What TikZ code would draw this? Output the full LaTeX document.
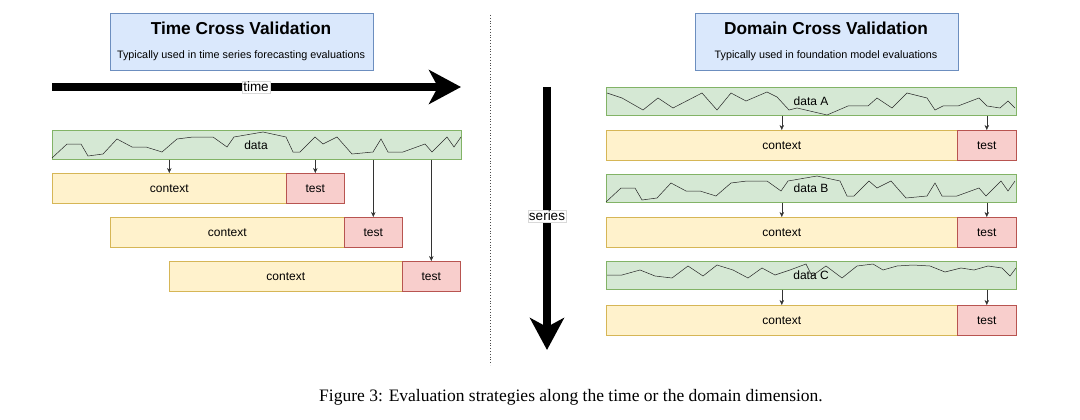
\documentclass[tikz,border=0pt]{standalone}
\usepackage{fontspec}
\setmainfont{Liberation Serif}
\newfontfamily\hv{Liberation Sans}
\usetikzlibrary{arrows.meta}
\begin{document}
\begin{tikzpicture}[x=1pt,y=-1pt,
  box/.style={draw=#1, line width=0.6pt, inner sep=0pt, anchor=north west},
  lbl/.style={font=\hv\fontsize{12}{13}\selectfont},
  wig/.style={line width=0.5pt, black!85},
  con/.style={-{Stealth[length=5pt,width=4.5pt]}, line width=0.5pt, black!80},
  big/.style={line width=8pt, -{Stealth[length=32pt,width=34pt,inset=9pt]}}]
\useasboundingbox (0,0) rectangle (1080,420);
\definecolor{dfill}{HTML}{D5E8D4}\definecolor{ddraw}{HTML}{82B366}
\definecolor{cfill}{HTML}{FFF2CC}\definecolor{cdraw}{HTML}{D6B656}
\definecolor{tfill}{HTML}{F8CECC}\definecolor{tdraw}{HTML}{B85450}
\definecolor{bfill}{HTML}{DAE8FC}\definecolor{bdraw}{HTML}{6C8EBF}
\tikzset{databox/.style={box=ddraw, fill=dfill},ctx/.style={box=cdraw, fill=cfill},tst/.style={box=tdraw, fill=tfill},
 tbox/.style={draw=bdraw, fill=bfill, line width=0.6pt, anchor=north west, minimum width=263pt, minimum height=57pt}}
% titles
\node[tbox] (t1) at (110,13) {};
\node[font=\hv\bfseries\fontsize{17.3}{19}\selectfont] (t1a) at (241,28) {Time Cross Validation};
\node[font=\hv\fontsize{10.8}{12}\selectfont] (t1b) at (241,56) {Typically used in time series forecasting evaluations};
\node[tbox] (t2) at (695,13) {};
\node[font=\hv\bfseries\fontsize{17.3}{19}\selectfont] (t2a) at (826,28) {Domain Cross Validation};
\node[font=\hv\fontsize{10.8}{12}\selectfont] (t2b) at (826,56) {Typically used in foundation model evaluations};
% time arrow
\coordinate (ta) at (52,87); \coordinate (tb) at (461,87);
\draw[big] (ta) -- (tb);
\node[fill=white, draw=black!15, line width=0.4pt, inner sep=1pt, font=\hv\fontsize{13.5}{14}\selectfont] (tl) at (256,87) {time};
% series arrow
\coordinate (sa) at (547,87); \coordinate (sb) at (547,350);
\draw[big] (sa) -- (sb);
\node[fill=white, draw=black!15, line width=0.4pt, inner sep=1pt, font=\hv\fontsize{13.5}{14}\selectfont] (sl) at (547,216) {series};
% dotted divider
\coordinate (d1) at (490,15); \coordinate (d2) at (490,365);
\draw[dotted, line width=0.8pt, black!70] (d1) -- (d2);
% left data
\node[databox, minimum width=409pt, minimum height=29pt] (data) at (52,130) {};
\draw[wig] (52,158)--(67,144)--(81,144)--(88,156)--(103,154)--(117,139)--(132,147)--(146,147)--(162,152)--(177,139)--(193,137)--(213,137)--(227,147)--(234,137)--(263,132)--(286,137)--(293,152)--(300,152)--(315,137)--(323,144)--(337,137)--(352,154)--(373,152)--(381,139)--(388,152)--(403,152)--(425,144)--(432,152)--(447,137)--(454,147)--(461,137);
\node[lbl] (datal) at (256,145) {data};
% left rows
\node[ctx, minimum width=234pt, minimum height=30pt] (c1) at (52,173) {}; \node[lbl] at (c1.center) {context};
\node[tst, minimum width=58pt, minimum height=30pt] (s1) at (286,173) {}; \node[lbl] at (s1.center) {test};
\node[ctx, minimum width=234pt, minimum height=30pt] (c2) at (110,217) {}; \node[lbl] at (c2.center) {context};
\node[tst, minimum width=58pt, minimum height=30pt] (s2) at (344,217) {}; \node[lbl] at (s2.center) {test};
\node[ctx, minimum width=233pt, minimum height=30pt] (c3) at (169,261) {}; \node[lbl] at (c3.center) {context};
\node[tst, minimum width=58pt, minimum height=30pt] (s3) at (402,261) {}; \node[lbl] at (s3.center) {test};
\draw[con] (data.south -| c1.center) -- (c1.north);
\draw[con] (data.south -| s1.center) -- (s1.north);
\draw[con] (data.south -| s2.center) -- (s2.north);
\draw[con] (data.south -| s3.center) -- (s3.north);
% right rows
\foreach \i/\yy in {A/87,B/174,C/261}{
  \node[databox, minimum width=410pt, minimum height=28pt] (d\i) at (606,\yy) {};
}
\draw[wig] (607,93)--(622,98)--(643,110)--(658,98)--(673,108)--(702,93)--(717,110)--(731,93)--(746,101)--(767,92)--(777,97)--(789,110)--(797,108)--(827,115)--(848,106)--(868,106)--(877,98)--(892,108)--(907,93)--(927,98)--(935,110)--(943,106)--(958,106)--(979,98)--(987,106)--(1000,108)--(1008,101)--(1015,108);
\begin{scope}[shift={(554,44)}]
\draw[wig] (52,158)--(67,144)--(81,144)--(88,156)--(103,154)--(117,139)--(132,147)--(146,147)--(162,152)--(177,139)--(193,137)--(213,137)--(227,147)--(234,137)--(263,132)--(286,137)--(293,152)--(300,152)--(315,137)--(323,144)--(337,137)--(352,154)--(373,152)--(381,139)--(388,152)--(403,152)--(425,144)--(432,152)--(447,137)--(454,147)--(461,137);
\end{scope}
\draw[wig] (607,275)--(622,275)--(640,270)--(655,276)--(672,278)--(688,266)--(703,276)--(717,265)--(733,270)--(748,278)--(762,268)--(775,275)--(790,270)--(806,264)--(812,276)--(826,266)--(842,278)--(857,266)--(873,264)--(883,270)--(897,266)--(913,265)--(930,266)--(945,272)--(961,268)--(974,270)--(988,266)--(1002,268)--(1010,276)--(1016,268);
\node[lbl] at (811,101) {data A};
\node[lbl] at (811,188) {data B};
\node[lbl] at (811,275) {data C};
\foreach \i/\yy in {A/130,B/217,C/305}{
  \node[ctx, minimum width=351pt, minimum height=30pt] (rc\i) at (606,\yy) {}; \node[lbl] at (rc\i.center) {context};
  \node[tst, minimum width=59pt, minimum height=30pt] (rt\i) at (957,\yy) {}; \node[lbl] at (rt\i.center) {test};
  \draw[con] (d\i.south -| rc\i.center) -- (rc\i.north);
  \draw[con] (d\i.south -| rt\i.center) -- (rt\i.north);
}
\node[font=\fontsize{17.5}{19}\selectfont] (cap) at (571,397) {Figure 3: Evaluation strategies along the time or the domain dimension.};
\end{tikzpicture}
\end{document}
